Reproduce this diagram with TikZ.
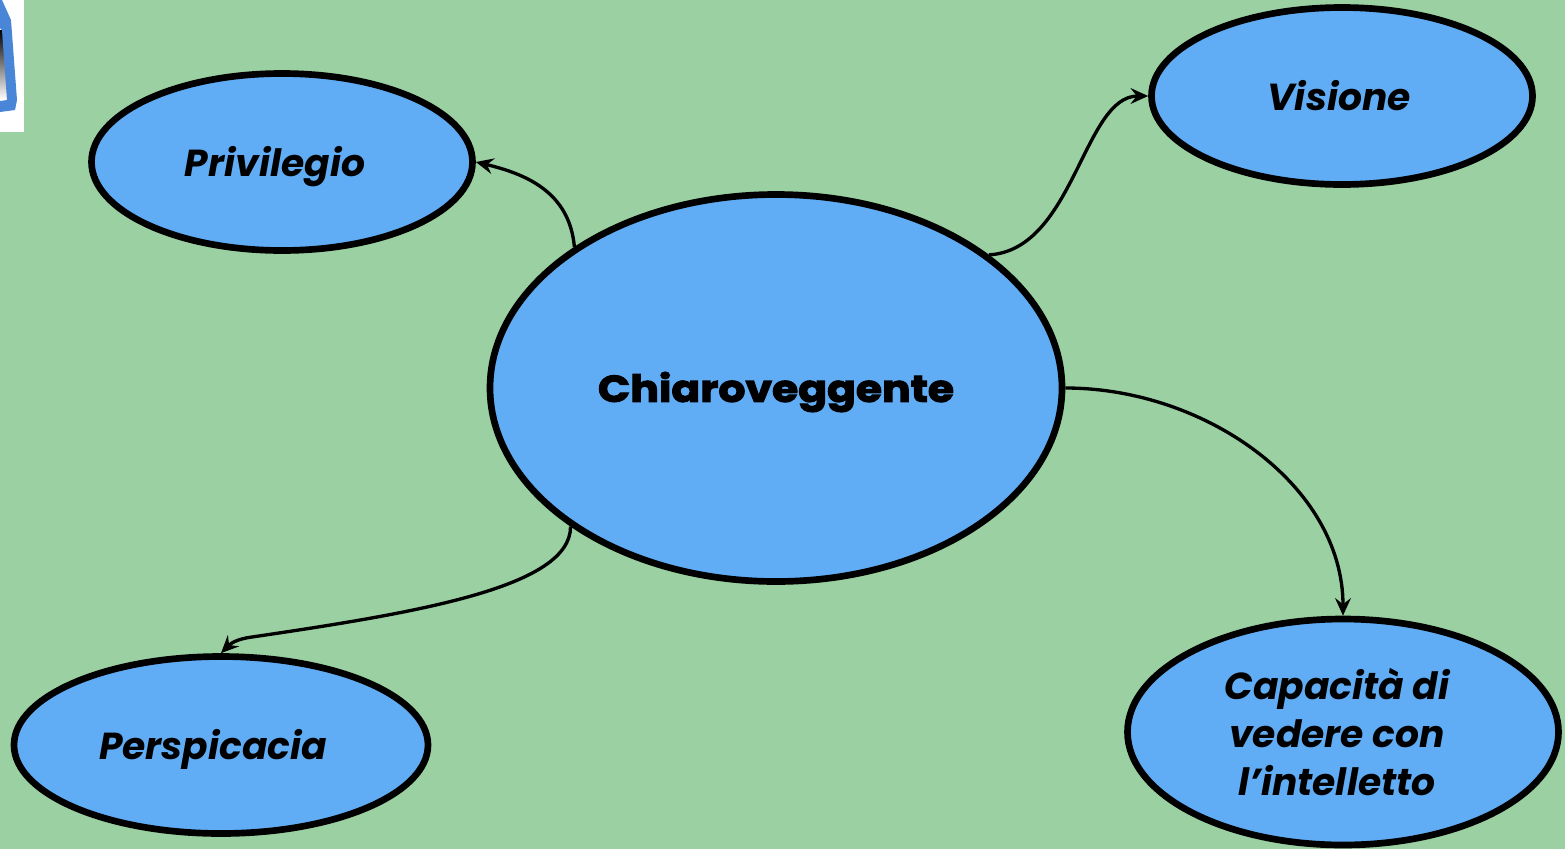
\documentclass[tikz,border=0pt]{standalone}
\usepackage{fontspec}
\setmainfont{Poppins}
\newfontfamily\titlefont[FakeStretch=1.14, BoldFeatures={FakeBold=3}]{Poppins}
\usetikzlibrary{calc, shapes.geometric, arrows.meta}
\definecolor{meadow}{HTML}{9BD0A3}
\definecolor{sky}{HTML}{60ADF5}
\definecolor{frameblue}{HTML}{4A86D8}
\tikzset{
	blob/.style 2 args = {ellipse, draw = black, fill = sky, line width = 3.8pt, inner sep = 0pt, minimum width = #1*0.02cm, minimum height = #2*0.02cm},
	blobtext/.style = {font = \fontsize{21.4}{27.2}\selectfont\bfseries\itshape, align = center, inner sep = 0pt},
	link/.style = {-{Stealth[length = 10pt, width = 9pt, inset = 3.5pt]}, line width = 1.9pt}
}

\begin{document}
\begin{tikzpicture}[x = 0.02cm, y = -0.02cm]
			\fill [meadow] (0,0) rectangle (1565,849);

			\begin{scope}
				\fill [white] (0,0) rectangle (24,132);
				\shade [top color = black, bottom color = white] (0,30) -- (3,30) -- (8,100) -- (0,100) -- cycle;
				\fill [frameblue] (2,0) -- (11,20) -- (17,100) -- (15,110) -- (0,112) -- (0,101) -- (7,100) -- (2,30) -- (0,28) -- (0,0) -- cycle;
			\end{scope}

			\node [blob = {572}{387}] (chiaroveggente) at (776,388) {};
			\node [blob = {381}{177}] (privilegio) at (282,162) {};
			\node [blob = {381}{177}] (visione) at (1342,96) {};
			\node [blob = {414}{177}] (perspicacia) at (221,745) {};
			\node [blob = {431}{226}] (capacita) at (1343,732) {};
			\coordinate (perspicacia bend) at (252,637);

			\node [font = \titlefont\fontsize{21.2}{26}\selectfont\bfseries, inner sep = 0pt] (chiaroveggente text) at (776,392) {Chiaroveggente};
			\node [blobtext] (privilegio text) at ($ (privilegio) + (-7,5) $) {Privilegio};
			\node [blobtext] (visione text) at ($ (visione) + (-3,0) $) {Visione};
			\node [blobtext] (perspicacia text) at ($ (perspicacia) + (-8,4) $) {Perspicacia};
			\node [blobtext] (capacita text) at ($ (capacita) + (-6,0) $) {Capacità di\\vedere con\\l’intelletto};

			\begin{scope}[link]
				\draw (chiaroveggente.145.5) .. controls +(-5,-55) and +(50,12) .. (privilegio.east);
				\draw (chiaroveggente.32) .. controls +(85,-5) and +(-65,0) .. (visione.west);
				\draw (chiaroveggente.east) .. controls +(140,0) and +(0,-130) .. (capacita.north);
				\draw (chiaroveggente.214) .. controls +(0,60) and +(170,-25) .. (perspicacia bend) .. controls +(-15,2) and +(10,-10) .. (perspicacia.north);
			\end{scope}
		\end{tikzpicture}
\end{document}
